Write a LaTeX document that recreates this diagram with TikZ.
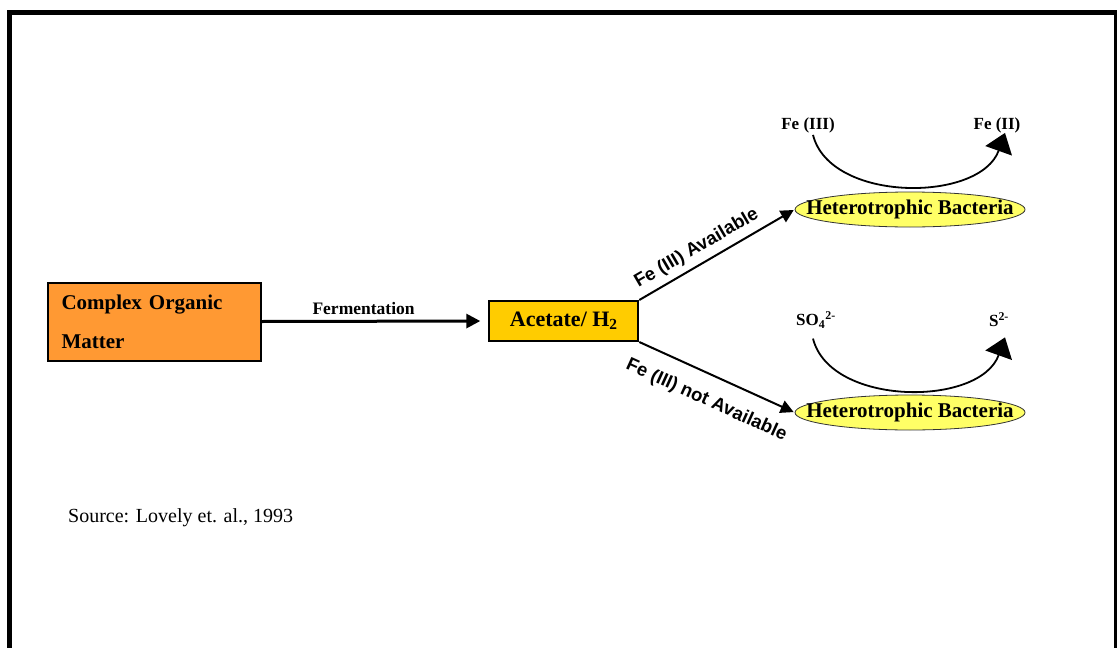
\documentclass[tikz,border=0pt]{standalone}
\usepackage{fontspec}
\setmainfont{Liberation Serif}
\newfontfamily\armfont{Liberation Sans}
\usetikzlibrary{arrows.meta,positioning,shapes.geometric}
\definecolor{organic}{HTML}{FF9933}
\definecolor{acetate}{HTML}{FFCC00}
\definecolor{bacteria}{HTML}{FFFF66}
\tikzset{
  organicbox/.style={
    rectangle, draw=black, line width=2pt, fill=organic,
    minimum width=213pt, minimum height=78pt, inner sep=0pt,
    text width=185pt, align=left,
    font=\fontsize{21}{39}\selectfont\bfseries
  },
  acetatebox/.style={
    rectangle, draw=black, line width=2pt, fill=acetate,
    minimum width=149pt, minimum height=40pt, inner sep=0pt,
    font=\fontsize{22}{24}\selectfont\bfseries
  },
  bactnode/.style={
    ellipse, draw=black!80, line width=0.8pt, fill=bacteria,
    minimum width=230pt, minimum height=35pt, inner xsep=-26pt, inner ysep=0pt,
    font=\fontsize{21}{24}\selectfont\bfseries
  },
  ionlabel/.style={inner sep=2pt, font=\fontsize{17}{20}\selectfont\bfseries},
  armlabel/.style={inner sep=1pt, font=\fontsize{18.5}{20}\selectfont\armfont\bfseries},
  fermarrow/.style={-{Triangle[length=14pt,width=14pt]}, line width=3pt, shorten >=8pt},
  armarrow/.style={-{Triangle[length=13pt,width=13pt]}, line width=2pt, shorten >=1pt},
  cyclearrow/.style={-{Triangle[length=19pt,width=28pt]}, line width=1.8pt},
}
\begin{document}
\begin{tikzpicture}[x=1pt, y=-1pt]
  \useasboundingbox (0,0) rectangle (1117,648);
  % frame
  \draw[line width=5pt] (9.5,648) -- (9.5,12.5) -- (1116.5,12.5) -- (1116.5,648);

  \node[organicbox] (organic) at (154,321.5) {Complex Organic\\Matter};
  \node[acetatebox] (acet) at (563.8,321) {Acetate/ H\textsubscript{2}};
  \node[bactnode] (bactA) at (910,209.5) {Heterotrophic Bacteria};
  \node[bactnode] (bactB) at (910,412.5) {Heterotrophic Bacteria};

  % electron acceptors
  \node[ionlabel] (fe3) at (808,125) {Fe (III)};
  \node[ionlabel] (fe2) at (997,125) {Fe (II)};
  \node[ionlabel] (so4) at (816,320) {SO\textsubscript{4}\textsuperscript{2-}};
  \node[ionlabel] (s2) at (999,320) {S\textsuperscript{2-}};

  \draw[fermarrow] (organic.east) -- node[above=3pt, pos=0.45, inner sep=2pt,
    font=\fontsize{17.5}{20}\selectfont\bfseries] (ferm) {Fermentation} (acet.west);
  \draw[armarrow] (acet.north east) -- node[armlabel, sloped, above=5pt, pos=0.42] (avail) {Fe (III) Available} (bactA.west);
  \draw[armarrow] (acet.south east) -- node[armlabel, sloped, below=15pt, pos=0.5] (notavail) {Fe (III) not Available} (bactB.west);

  \draw[cyclearrow] ([xshift=5pt]fe3.south) .. controls +(17,68) and +(-25,70) .. ([xshift=8pt,yshift=2pt]fe2.south);
  \draw[cyclearrow] ([xshift=-3pt,yshift=-8pt]so4.south) .. controls +(17,68) and +(-25,70) .. ([xshift=6pt,yshift=-8pt]s2.south);

  \node[anchor=base west, inner sep=0pt, font=\fontsize{20}{24}\selectfont] (source) at (68,522) {Source: Lovely et. al., 1993};
\end{tikzpicture}
\end{document}
